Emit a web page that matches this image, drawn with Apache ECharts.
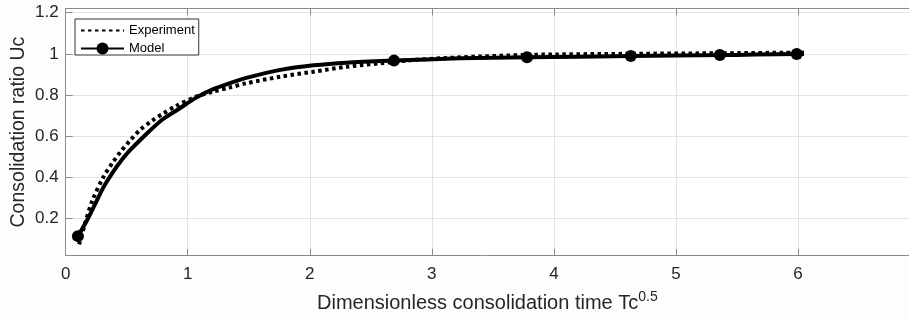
<!DOCTYPE html>
<html>
<head>
<meta charset="utf-8">
<script src="https://cdn.jsdelivr.net/npm/echarts@6/dist/echarts.min.js"></script>
<style>
html,body{margin:0;padding:0;background:#fdfdfd;}
#chart{width:909px;height:320px;}
</style>
</head>
<body>
<div id="chart"></div>
<script>
// ---- data ----
const xTicks = [0, 1, 2, 3, 4, 5, 6];
const yTicks = [0.2, 0.4, 0.6, 0.8, 1.0, 1.2];

const expX = [0.11, 0.16, 0.22, 0.31, 0.38, 0.45, 0.52, 0.61, 0.71, 0.79, 0.9, 1.06, 1.2, 1.34, 1.48, 1.76, 2.03, 2.3, 2.58, 2.85, 3.2, 3.8, 4.6, 5.4, 6.07];
const expY = [0.075, 0.18, 0.29, 0.403, 0.468, 0.525, 0.574, 0.631, 0.676, 0.707, 0.745, 0.79, 0.815, 0.836, 0.857, 0.889, 0.913, 0.937, 0.954, 0.970, 0.982, 0.995, 1.0, 1.003, 1.006];

const modelX = [0.175, 0.243, 0.311, 0.38, 0.448, 0.516, 0.653, 0.79, 0.926, 1.062, 1.2, 1.363, 1.48, 1.76, 2.03, 2.3, 3.23, 6.05];
const modelY = [0.192, 0.273, 0.354, 0.42, 0.476, 0.525, 0.606, 0.68, 0.732, 0.785, 0.826, 0.861, 0.883, 0.922, 0.944, 0.957, 0.978, 0.999];

const markerX = [0.1, 2.69, 3.78, 4.63, 5.36, 5.99];
const markerY = [0.115, 0.967, 0.983, 0.989, 0.994, 0.999];

// ---- build series data ----
const expData = expX.map((x, i) => [x, expY[i]]);
const modelPts = modelX.map((x, i) => ({ value: [x, modelY[i]], symbol: 'none' }))
  .concat(markerX.map((x, i) => ({ value: [x, markerY[i]], symbol: 'circle' })))
  .sort((a, b) => a.value[0] - b.value[0]);

const FONT = "'Liberation Sans', Arial, Helvetica, sans-serif";
const AX = '#8a8a8a';
const TXT = '#262626';

const chart = echarts.init(document.getElementById('chart'), null, { renderer: 'canvas' });
chart.setOption({
  backgroundColor: '#fdfdfd',
  animation: false,
  textStyle: { fontFamily: FONT },
  grid: {
    left: 65.7, right: 0, top: 8.5, bottom: 64.3, show: true, backgroundColor: '#ffffff', borderWidth: 0,
    containLabel: false, outerBoundsMode: 'none'
  },
  legend: {
    orient: 'vertical', left: 75, top: 19,
    padding: [5, 4, 0, 5], itemGap: 5, itemWidth: 43, itemHeight: 15,
    borderColor: '#333', borderWidth: 1, backgroundColor: '#fff',
    textStyle: { fontSize: 13, color: '#000', fontFamily: FONT },
    data: [
      { name: 'Experiment', itemStyle: { opacity: 0 } },
      { name: 'Model' }
    ]
  },
  xAxis: [{
    type: 'value', min: 0, max: 6.91, position: 'bottom',
    axisLine: { show: true, onZero: false, lineStyle: { color: AX, width: 1 } },
    axisTick: { show: true, inside: true, length: 7, lineStyle: { color: AX }, customValues: xTicks },
    axisLabel: { customValues: xTicks, fontSize: 17, color: TXT, margin: 10, fontFamily: FONT },
    splitLine: { show: true, lineStyle: { color: '#e3e3e3', width: 1 } },
    name: '{m|Dimensionless consolidation time Tc}{s|0.5}',
    nameLocation: 'middle', nameGap: 34, nameMoveOverlap: false,
    nameTextStyle: {
      color: TXT, fontFamily: FONT,
      rich: {
        m: { fontSize: 20, color: TXT, fontFamily: FONT, verticalAlign: 'bottom' },
        s: { fontSize: 14, color: TXT, fontFamily: FONT, verticalAlign: 'bottom', padding: [0, 0, 10, 0] }
      }
    }
  }, {
    type: 'value', min: 0, max: 6.91, position: 'top',
    axisLine: { show: true, onZero: false, lineStyle: { color: AX, width: 1 } },
    axisTick: { show: true, inside: true, length: 7, lineStyle: { color: AX }, customValues: xTicks },
    axisLabel: { show: false },
    splitLine: { show: false }
  }],
  yAxis: {
    type: 'value', min: 0.02, max: 1.22,
    axisLine: { show: true, onZero: false, lineStyle: { color: AX, width: 1 } },
    axisTick: { show: true, inside: true, length: 7, lineStyle: { color: AX }, customValues: yTicks },
    axisLabel: {
      customValues: yTicks, fontSize: 17, color: TXT, margin: 7, fontFamily: FONT,
      formatter: v => String(+(+v).toFixed(1))
    },
    splitLine: { show: true, lineStyle: { color: '#e3e3e3', width: 1 } },
    name: 'Consolidation ratio Uc', nameLocation: 'middle', nameGap: 37, nameMoveOverlap: false,
    nameTextStyle: { fontSize: 19.5, color: TXT, fontFamily: FONT }
  },
  series: [{
    name: 'Experiment', type: 'line', data: expData,
    smooth: 0.3, showSymbol: false, symbol: 'none',
    lineStyle: { color: '#000', width: 4, type: [3.5, 3.5], cap: 'butt' },
    itemStyle: { color: '#000' },
    z: 3
  }, {
    name: 'Model', type: 'line', data: modelPts,
    smooth: 0.3, symbol: 'circle', symbolSize: 12, showSymbol: true,
    lineStyle: { color: '#000', width: 4 },
    itemStyle: { color: '#000' },
    z: 2
  }]
});
</script>
</body>
</html>
